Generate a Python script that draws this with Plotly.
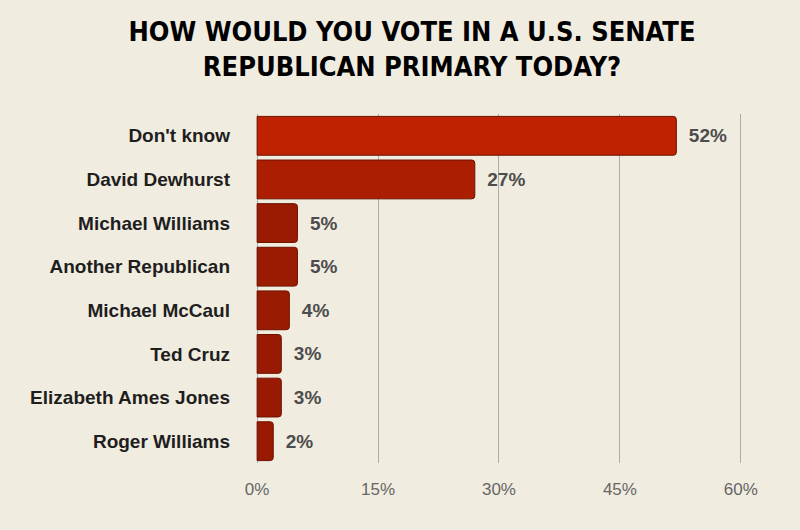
import plotly.graph_objects as go

# Poll data, top to bottom as shown
candidates = [
    "Don't know",
    "David Dewhurst",
    "Michael Williams",
    "Another Republican",
    "Michael McCaul",
    "Ted Cruz",
    "Elizabeth Ames Jones",
    "Roger Williams",
]
shares = [52, 27, 5, 5, 4, 3, 3, 2]
tick_values = [0, 15, 30, 45, 60]
tick_labels = ["0%", "15%", "30%", "45%", "60%"]

title_text = "HOW WOULD YOU VOTE IN A U.S. SENATE<br>REPUBLICAN PRIMARY TODAY?"

fig = go.Figure()

fig.add_trace(
    go.Bar(
        x=shares,
        y=candidates,
        orientation="h",
        marker=dict(
            color=shares,
            colorscale=[(0, "#961a02"), (1, "#c02202")],
            cmin=0,
            cmax=55,
            line=dict(color="#6e1200", width=1),
            cornerradius=3,
        ),
        # leading en space keeps the labels off the bar ends
        text=[f"\u2002{v}%" for v in shares],
        textposition="outside",
        textfont=dict(family="Liberation Sans, Arial", size=19, color="#4d4d4d"),
        cliponaxis=False,
        hoverinfo="skip",
    )
)

fig.update_layout(
    width=800,
    height=530,
    title=dict(
        text=title_text,
        x=0.515,
        xanchor="center",
        y=0.923,
        yanchor="top",
        font=dict(family="DejaVu Sans Condensed, Liberation Sans Narrow", size=27, color="#000000"),
    ),
    font=dict(family="Liberation Sans, Arial", weight="bold"),
    paper_bgcolor="#f1ece0",
    plot_bgcolor="rgba(0,0,0,0)",
    margin=dict(l=241, r=39, t=114, b=67),
    bargap=0.11,
    showlegend=False,
)

fig.update_xaxes(
    range=[-2, 62.5],
    tickvals=tick_values,
    ticktext=tick_labels,
    tickfont=dict(family="Liberation Sans, Arial", size=17, color="#666666", weight="normal"),
    showgrid=True,
    gridcolor="#ababab",
    gridwidth=1,
    zeroline=False,
    showline=False,
    ticks="",
    ticklabelstandoff=14,
)

fig.update_yaxes(
    autorange="reversed",
    tickfont=dict(family="Liberation Sans, Arial", size=19, color="#1e1e1e"),
    showgrid=False,
    ticks="",
    ticklabelstandoff=10,
)

# drop the page's default body margin so the figure sits at the window corner
fig.write_html(
    "out.html",
    config={"displayModeBar": False},
    post_script="document.body.style.margin='0';",
)
